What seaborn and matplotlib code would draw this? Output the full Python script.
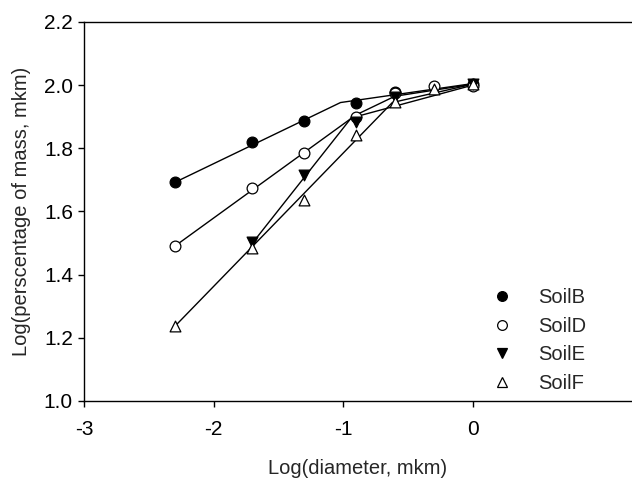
import matplotlib
matplotlib.use("Agg")
import matplotlib.pyplot as plt
import seaborn as sns
from matplotlib.lines import Line2D

# Measured points
soilB_x = [-2.3, -1.7, -1.3, -0.9, -0.6, 0.0]
soilB_y = [1.692, 1.820, 1.887, 1.945, 1.977, 2.003]
soilD_x = [-2.3, -1.7, -1.3, -0.9, -0.6, -0.3, 0.0]
soilD_y = [1.492, 1.673, 1.786, 1.900, 1.974, 1.997, 1.998]
soilE_x = [-1.7, -1.3, -0.9, -0.6, 0.0]
soilE_y = [1.505, 1.716, 1.882, 1.962, 2.003]
soilF_x = [-2.3, -1.7, -1.3, -0.9, -0.6, -0.3, 0.0]
soilF_y = [1.238, 1.484, 1.637, 1.842, 1.948, 1.987, 2.003]

# Fitted piecewise lines (breakpoints)
fitB_x = [-2.3, -1.02, 0.0]
fitB_y = [1.692, 1.945, 2.005]
fitD_x = [-2.3, -0.93, 0.0]
fitD_y = [1.490, 1.897, 2.000]
fitE_x = [-1.7, -0.93, -0.6, 0.0]
fitE_y = [1.500, 1.900, 1.965, 2.003]
fitF_x = [-2.3, -0.62, 0.0]
fitF_y = [1.236, 1.945, 2.003]

series_names = ["SoilB", "SoilD", "SoilE", "SoilF"]
x_ticks = [-3, -2, -1, 0]
y_ticks = [1.0, 1.2, 1.4, 1.6, 1.8, 2.0, 2.2]

sns.set_theme(style="white")
plt.rcParams["font.family"] = ["Liberation Sans", "DejaVu Sans"]

fig = plt.figure(figsize=(6.32, 4.87), dpi=100)
ax = fig.add_axes([84 / 632, 86 / 487, 548 / 632, 379 / 487])

points = {
    "SoilB": (soilB_x, soilB_y, "o", "black"),
    "SoilD": (soilD_x, soilD_y, "o", "white"),
    "SoilE": (soilE_x, soilE_y, "v", "black"),
    "SoilF": (soilF_x, soilF_y, "^", "white"),
}
fits = {
    "SoilB": (fitB_x, fitB_y),
    "SoilD": (fitD_x, fitD_y),
    "SoilE": (fitE_x, fitE_y),
    "SoilF": (fitF_x, fitF_y),
}

for name in series_names:
    fx, fy = fits[name]
    sns.lineplot(x=fx, y=fy, ax=ax, color="black", linewidth=1.0, sort=False,
                 estimator=None)

handles = []
for name in series_names:
    px, py, mk, fc = points[name]
    sns.scatterplot(x=px, y=py, ax=ax, marker=mk, s=60, facecolor=fc,
                    edgecolor="black", linewidth=0.9, zorder=3)
    handles.append(Line2D([], [], linestyle="none", marker=mk, markersize=7,
                          markerfacecolor=fc, markeredgecolor="black",
                          markeredgewidth=0.9, label=name))

ax.set_xlim(-3, 1.23)
ax.set_ylim(1.0, 2.2)
ax.set_xticks(x_ticks)
ax.set_xticklabels([str(t) for t in x_ticks])
ax.set_yticks(y_ticks)
ax.set_yticklabels([f"{t:.1f}" for t in y_ticks])
ax.tick_params(axis="both", direction="out", length=4, width=1, colors="black",
               labelsize=15, bottom=True, left=True)
ax.tick_params(axis="x", pad=10)
ax.tick_params(axis="y", pad=4)
for s in ["left", "bottom", "top"]:
    ax.spines[s].set_color("black")
    ax.spines[s].set_linewidth(1.0)
ax.spines["right"].set_visible(False)

ax.set_xlabel("Log(diameter, mkm)", fontsize=14.5, labelpad=14)
ax.set_ylabel("Log(perscentage of mass, mkm)", fontsize=14.5, labelpad=9)

leg = ax.legend(handles=handles, loc="upper left",
                bbox_to_anchor=((484 - 84) / 548, 1 - (280 - 22) / 379),
                frameon=False, fontsize=14.5, handlelength=1.0,
                handletextpad=1.3, labelspacing=0.48, borderaxespad=0)

fig.savefig("out.png", dpi=100)
